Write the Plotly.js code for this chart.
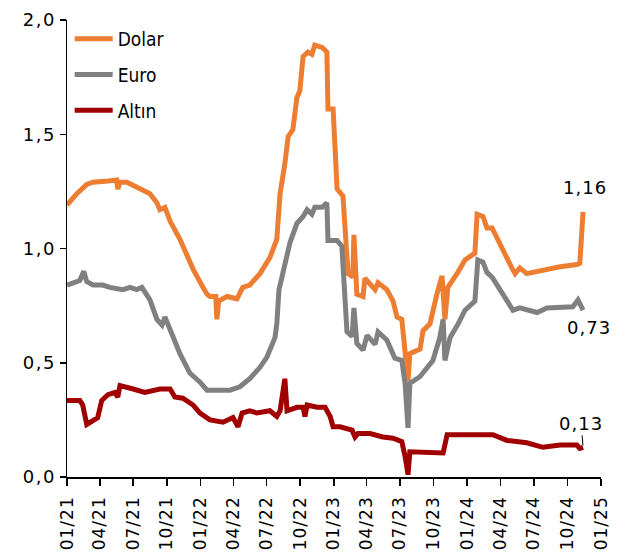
<!DOCTYPE html>
<html><head><meta charset="utf-8">
<script src="https://cdn.plot.ly/plotly-3.0.1.min.js"></script>
<style>
html,body{margin:0;padding:0;background:#fff}#chart{width:637px;height:555px}
#chart .ytick text{letter-spacing:1.5px}
#chart .xtick text{letter-spacing:1px}
#chart .annotation-text{letter-spacing:1px}
</style>
</head><body><div id="chart"></div>
<script>
const dolarDates = ["2021-01-01","2021-01-28","2021-02-24","2021-03-13","2021-04-23","2021-05-17","2021-05-20","2021-05-26","2021-06-14","2021-07-11","2021-08-16","2021-09-04","2021-09-12","2021-09-26","2021-10-10","2021-11-06","2021-12-12","2022-01-08","2022-01-19","2022-01-27","2022-02-12","2022-02-15","2022-02-20","2022-03-15","2022-04-11","2022-04-27","2022-05-16","2022-06-13","2022-07-10","2022-07-29","2022-08-07","2022-08-20","2022-08-29","2022-09-11","2022-09-22","2022-09-30","2022-10-09","2022-10-22","2022-11-02","2022-11-10","2022-11-30","2022-12-13","2022-12-16","2022-12-30","2023-01-10","2023-01-26","2023-02-09","2023-02-22","2023-02-25","2023-03-05","2023-03-22","2023-03-27","2023-04-24","2023-05-02","2023-05-26","2023-06-12","2023-06-23","2023-07-06","2023-07-15","2023-07-23","2023-07-28","2023-08-25","2023-09-02","2023-09-21","2023-10-10","2023-10-24","2023-11-01","2023-11-09","2023-12-04","2023-12-26","2024-01-22","2024-01-28","2024-02-13","2024-02-24","2024-03-09","2024-03-31","2024-05-02","2024-05-11","2024-05-24","2024-06-12","2024-07-26","2024-09-11","2024-10-27","2024-11-04","2024-11-13"];
const dolarValues = [1.19,1.24,1.28,1.29,1.295,1.30,1.26,1.29,1.29,1.27,1.24,1.20,1.17,1.18,1.12,1.04,0.91,0.83,0.80,0.79,0.79,0.69,0.77,0.79,0.78,0.83,0.84,0.89,0.96,1.04,1.24,1.37,1.49,1.52,1.66,1.69,1.84,1.86,1.85,1.89,1.88,1.86,1.61,1.61,1.26,1.23,0.89,0.875,1.06,0.80,0.79,0.87,0.82,0.85,0.82,0.77,0.70,0.69,0.56,0.42,0.54,0.56,0.64,0.67,0.80,0.88,0.69,0.83,0.89,0.95,0.98,1.15,1.14,1.09,1.09,1.015,0.915,0.89,0.915,0.89,0.905,0.92,0.93,0.935,1.16];

const euroDates = ["2021-01-01","2021-02-05","2021-02-16","2021-02-24","2021-03-13","2021-04-09","2021-04-28","2021-06-03","2021-06-22","2021-07-11","2021-07-25","2021-08-16","2021-09-04","2021-09-18","2021-09-26","2021-10-10","2021-11-06","2021-12-03","2021-12-31","2022-01-19","2022-02-15","2022-03-23","2022-04-19","2022-05-16","2022-06-13","2022-07-02","2022-07-24","2022-07-29","2022-08-04","2022-08-20","2022-09-03","2022-09-22","2022-10-09","2022-10-20","2022-11-02","2022-11-10","2022-11-30","2022-12-13","2022-12-16","2023-01-10","2023-01-23","2023-02-06","2023-02-20","2023-02-25","2023-03-05","2023-03-22","2023-04-02","2023-04-24","2023-05-02","2023-05-26","2023-06-17","2023-07-06","2023-07-15","2023-07-23","2023-07-28","2023-08-25","2023-09-13","2023-09-29","2023-10-18","2023-10-27","2023-11-01","2023-11-15","2023-12-07","2023-12-26","2024-01-22","2024-01-30","2024-02-13","2024-02-24","2024-03-09","2024-04-08","2024-05-05","2024-05-24","2024-07-10","2024-08-06","2024-09-11","2024-10-16","2024-10-30","2024-11-13"];
const euroValues = [0.84,0.86,0.90,0.855,0.84,0.84,0.83,0.82,0.83,0.82,0.83,0.775,0.69,0.665,0.70,0.645,0.54,0.455,0.415,0.38,0.38,0.38,0.395,0.43,0.48,0.525,0.61,0.67,0.82,0.935,1.025,1.11,1.14,1.17,1.15,1.18,1.18,1.20,1.035,1.035,1.01,0.635,0.615,0.74,0.585,0.555,0.62,0.58,0.635,0.60,0.52,0.51,0.41,0.215,0.41,0.44,0.48,0.51,0.61,0.69,0.51,0.61,0.67,0.73,0.77,0.95,0.94,0.895,0.875,0.795,0.73,0.74,0.72,0.74,0.745,0.745,0.775,0.73];

const altinDates = ["2021-01-01","2021-02-05","2021-02-13","2021-02-24","2021-03-26","2021-04-06","2021-04-23","2021-05-12","2021-05-20","2021-05-26","2021-07-01","2021-08-02","2021-09-12","2021-10-10","2021-10-23","2021-11-14","2021-12-12","2021-12-31","2022-01-27","2022-03-04","2022-03-31","2022-04-14","2022-04-25","2022-05-16","2022-06-05","2022-07-10","2022-07-29","2022-08-07","2022-08-20","2022-08-26","2022-09-22","2022-10-09","2022-10-14","2022-10-20","2022-11-16","2022-12-08","2022-12-22","2022-12-30","2023-01-18","2023-01-26","2023-02-20","2023-02-28","2023-03-08","2023-04-10","2023-05-15","2023-06-12","2023-07-06","2023-07-15","2023-07-23","2023-07-28","2023-08-25","2023-09-21","2023-10-18","2023-10-27","2023-11-07","2023-12-04","2024-01-09","2024-01-28","2024-03-11","2024-04-19","2024-06-12","2024-07-26","2024-09-11","2024-10-27","2024-11-04","2024-11-13"];
const altinValues = [0.335,0.335,0.315,0.23,0.26,0.335,0.36,0.37,0.35,0.40,0.385,0.37,0.385,0.385,0.35,0.345,0.315,0.28,0.25,0.24,0.26,0.22,0.28,0.29,0.28,0.29,0.265,0.29,0.43,0.29,0.305,0.305,0.265,0.315,0.305,0.305,0.265,0.22,0.22,0.215,0.205,0.175,0.19,0.19,0.175,0.17,0.155,0.09,0.01,0.11,0.11,0.105,0.11,0.105,0.185,0.185,0.185,0.185,0.185,0.16,0.15,0.13,0.14,0.14,0.125,0.13];

const seriesNames = ["Dolar","Euro","Altın"];
const seriesColors = ["#ED7D31","#808080","#A00000"];
const tickStart = "2021-01-01", tickEnd = "2025-01-01";

const FONT = "'DejaVu Sans', sans-serif";
const LFONT = "'DejaVu Sans Condensed', 'DejaVu Sans', sans-serif";
const allDates = [dolarDates, euroDates, altinDates];
const allVals = [dolarValues, euroValues, altinValues];

const traces = allDates.map((d, i) => ({
  x: d, y: allVals[i], type: 'scatter', mode: 'lines', name: seriesNames[i],
  legendgroup: 'g' + i,
  line: {color: seriesColors[i], width: 5}
}));

const fmt = v => v.toFixed(2).replace('.', ',');
const last = arr => arr[arr.length - 1];

const annotations = [
  {x: last(dolarDates), y: last(dolarValues), text: fmt(last(dolarValues)), showarrow: false, yshift: 24, xshift: 2},
  {x: last(euroDates), y: last(euroValues), text: fmt(last(euroValues)), showarrow: false, yshift: -17, xshift: 6},
  {x: last(altinDates), y: last(altinValues), text: fmt(last(altinValues)), showarrow: true, arrowhead: 0, arrowwidth: 1, arrowcolor: '#000', ax: -2, ay: -24, standoff: 2}
].map(a => Object.assign({xref: 'x', yref: 'y', font: {family: FONT, size: 18, color: '#000'}}, a));

const layout = {
  width: 637, height: 555,
  margin: {l: 67, r: 36, t: 20, b: 78},
  paper_bgcolor: '#fff', plot_bgcolor: '#fff',
  separators: ',.',
  font: {family: FONT, size: 17, color: '#000'},
  showlegend: true,
  legend: {x: 0.005, y: 1.0, xanchor: 'left', yanchor: 'top', bgcolor: 'rgba(0,0,0,0)', itemwidth: 38,
           traceorder: 'grouped', tracegroupgap: 8, font: {family: LFONT, size: 19, color: '#000'}},
  xaxis: {type: 'date', range: [tickStart, tickEnd], tick0: tickStart, dtick: 'M3', tickformat: '%m/%y',
          tickangle: -90, ticks: 'outside', ticklen: 7, tickwidth: 1.5, tickcolor: '#000', ticklabelstandoff: 4,
          showline: true, linecolor: '#000', linewidth: 1.5, showgrid: false, zeroline: false,
          tickfont: {family: FONT, size: 17, color: '#000'}},
  yaxis: {range: [0, 2], dtick: 0.5, tick0: 0, tickformat: '.1f', ticks: 'outside', ticklen: 6, tickwidth: 1.5, tickcolor: '#000',
          showline: true, linecolor: '#000', linewidth: 1.5, showgrid: false, zeroline: false,
          tickfont: {family: FONT, size: 18, color: '#000'}},
  annotations: annotations
};

Plotly.newPlot('chart', traces, layout, {displayModeBar: false, staticPlot: true});
</script>
</body></html>
